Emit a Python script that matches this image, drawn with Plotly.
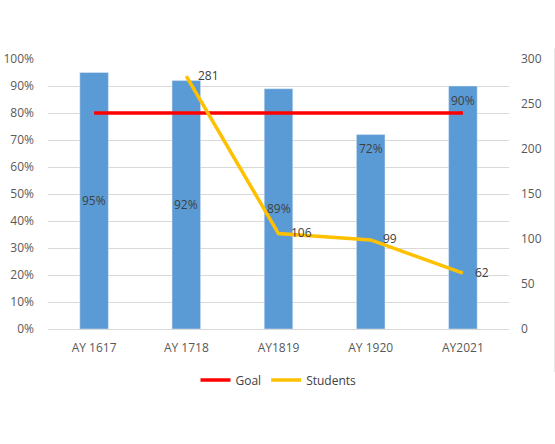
import plotly.graph_objects as go

categories = ["AY 1617", "AY 1718", "AY1819", "AY 1920", "AY2021"]
pass_rate = [0.95, 0.92, 0.89, 0.72, 0.90]
bar_labels = ["95%", "92%", "89%", "72%", "90%"]
label_mode = ["mid", "mid", "mid", "top", "top"]
goal = [0.80, 0.80, 0.80, 0.80, 0.80]
students = [None, 281, 106, 99, 62]
student_labels = ["", "281", "106", "99", "62"]

FONT = "Open Sans"
TXT = "#404040"
TICK = "#595959"
GRID = "#D9D9D9"

fig = go.Figure()
fig.add_trace(go.Bar(
    x=categories, y=pass_rate, marker_color="#5B9BD5", width=0.31,
    showlegend=False, hoverinfo="skip",
))
fig.add_trace(go.Scatter(
    x=categories, y=goal, mode="lines", name="Goal",
    line=dict(color="#FF0000", width=3.5),
))
fig.add_trace(go.Scatter(
    x=categories, y=students, mode="lines", name="Students",
    yaxis="y2",
    line=dict(color="#FFC000", width=3.5),
))

annotations = []
for c, v, t, m in zip(categories, pass_rate, bar_labels, label_mode):
    if m == "mid":
        annotations.append(dict(x=c, y=v / 2, text=t, showarrow=False,
                                font=dict(family=FONT, size=12, color=TXT),
                                xref="x", yref="y"))
    else:
        annotations.append(dict(x=c, y=v, text=t, showarrow=False, yshift=-14,
                                font=dict(family=FONT, size=12, color=TXT),
                                xref="x", yref="y"))
for c, s, t in zip(categories, students, student_labels):
    if s is None:
        continue
    annotations.append(dict(x=c, y=s, text=t, showarrow=False, xanchor="left",
                            xshift=10, yshift=1,
                            font=dict(family=FONT, size=12, color=TXT),
                            xref="x", yref="y2"))

fig.update_layout(
    width=555, height=444,
    margin=dict(l=48, r=46, t=59, b=115),
    paper_bgcolor="white", plot_bgcolor="white",
    font=dict(family=FONT, size=12, color=TICK),
    bargap=0.69,
    xaxis=dict(showgrid=False, showline=True, linecolor=GRID, linewidth=1,
               ticks="", ticklabelstandoff=8, automargin=False,
               tickfont=dict(size=12, color=TICK)),
    yaxis=dict(range=[0, 1.0], dtick=0.1, tickformat=".0%", showgrid=True,
               gridcolor=GRID, zeroline=False, ticks="", ticklabelstandoff=13,
               automargin=False, tickfont=dict(size=12, color=TICK)),
    yaxis2=dict(range=[0, 300], dtick=50, overlaying="y", side="right",
                showgrid=False, zeroline=False, ticks="", ticklabelstandoff=11,
                automargin=False, tickfont=dict(size=12, color=TICK)),
    legend=dict(orientation="h", x=0.5, xanchor="center", y=-0.135, yanchor="top",
                font=dict(family=FONT, size=12, color=TXT), itemwidth=30),
    annotations=annotations,
    shapes=[dict(type="line", xref="paper", yref="paper", x0=1.0995, x1=1.0995,
                 y0=-0.16, y1=1.04, line=dict(color="#D9D9D9", width=1))],
)

fig.write_html("out.html")
